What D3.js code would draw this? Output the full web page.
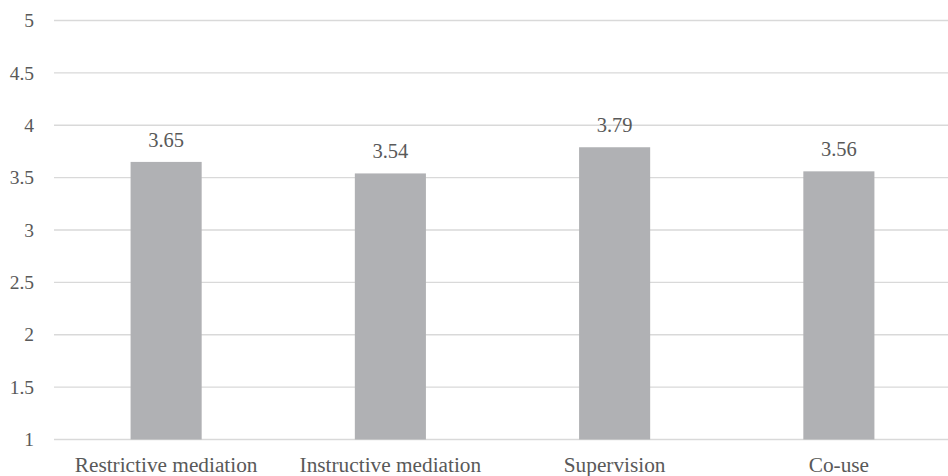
<!DOCTYPE html>
<html>
<head>
<meta charset="utf-8">
<script src="https://cdn.jsdelivr.net/npm/d3@7"></script>
<style>
  html, body { margin: 0; padding: 0; background: #ffffff; }
  svg { display: block; }
</style>
</head>
<body>
<script>
// Mean scores per parental mediation type
const categories = ["Restrictive mediation", "Instructive mediation", "Supervision", "Co-use"];
const values = [3.65, 3.54, 3.79, 3.56];
const yTicks = [1, 1.5, 2, 2.5, 3, 3.5, 4, 4.5, 5];

const width = 948, height = 476;
const plot = { left: 54, right: 951, top: 20.5, bottom: 439.5 };
const FONT = "'Liberation Serif', 'Times New Roman', Times, serif";
const TEXT_COLOR = "#595959";

const svg = d3.select("body").append("svg")
  .attr("width", width)
  .attr("height", height)
  .attr("font-family", FONT);

const x = d3.scaleBand()
  .domain(categories)
  .range([plot.left, plot.right])
  .padding(0);

const y = d3.scaleLinear()
  .domain([1, 5])
  .range([plot.bottom, plot.top]);

const barWidth = x.bandwidth() * 0.317;

// Horizontal gridlines
svg.append("g")
  .selectAll("line")
  .data(yTicks)
  .join("line")
  .attr("x1", plot.left)
  .attr("x2", width)
  .attr("y1", d => y(d))
  .attr("y2", d => y(d))
  .attr("stroke", "#d9d9d9")
  .attr("stroke-width", 1.3);

// Y axis labels
svg.append("g")
  .selectAll("text")
  .data(yTicks)
  .join("text")
  .attr("x", 34)
  .attr("y", d => y(d))
  .attr("dy", "0.34em")
  .attr("text-anchor", "end")
  .attr("font-family", FONT)
  .attr("fill", TEXT_COLOR)
  .style("font-size", "19.5px")
  .text(d => String(d));

// Bars
svg.append("g")
  .selectAll("rect")
  .data(values)
  .join("rect")
  .attr("x", (d, i) => x(categories[i]) + (x.bandwidth() - barWidth) / 2)
  .attr("y", d => y(d))
  .attr("width", barWidth)
  .attr("height", d => y(1) - y(d))
  .attr("fill", "#b0b1b4");

// Value labels
svg.append("g")
  .selectAll("text")
  .data(values)
  .join("text")
  .attr("x", (d, i) => x(categories[i]) + x.bandwidth() / 2)
  .attr("y", d => y(d) - 15)
  .attr("text-anchor", "middle")
  .attr("font-family", FONT)
  .attr("fill", TEXT_COLOR)
  .style("font-size", "20.5px")
  .text(d => d.toFixed(2));

// Category labels
svg.append("g")
  .selectAll("text")
  .data(categories)
  .join("text")
  .attr("x", d => x(d) + x.bandwidth() / 2)
  .attr("y", 472)
  .attr("text-anchor", "middle")
  .attr("font-family", FONT)
  .attr("fill", TEXT_COLOR)
  .style("font-size", "21.3px")
  .text(d => d);
</script>
</body>
</html>
